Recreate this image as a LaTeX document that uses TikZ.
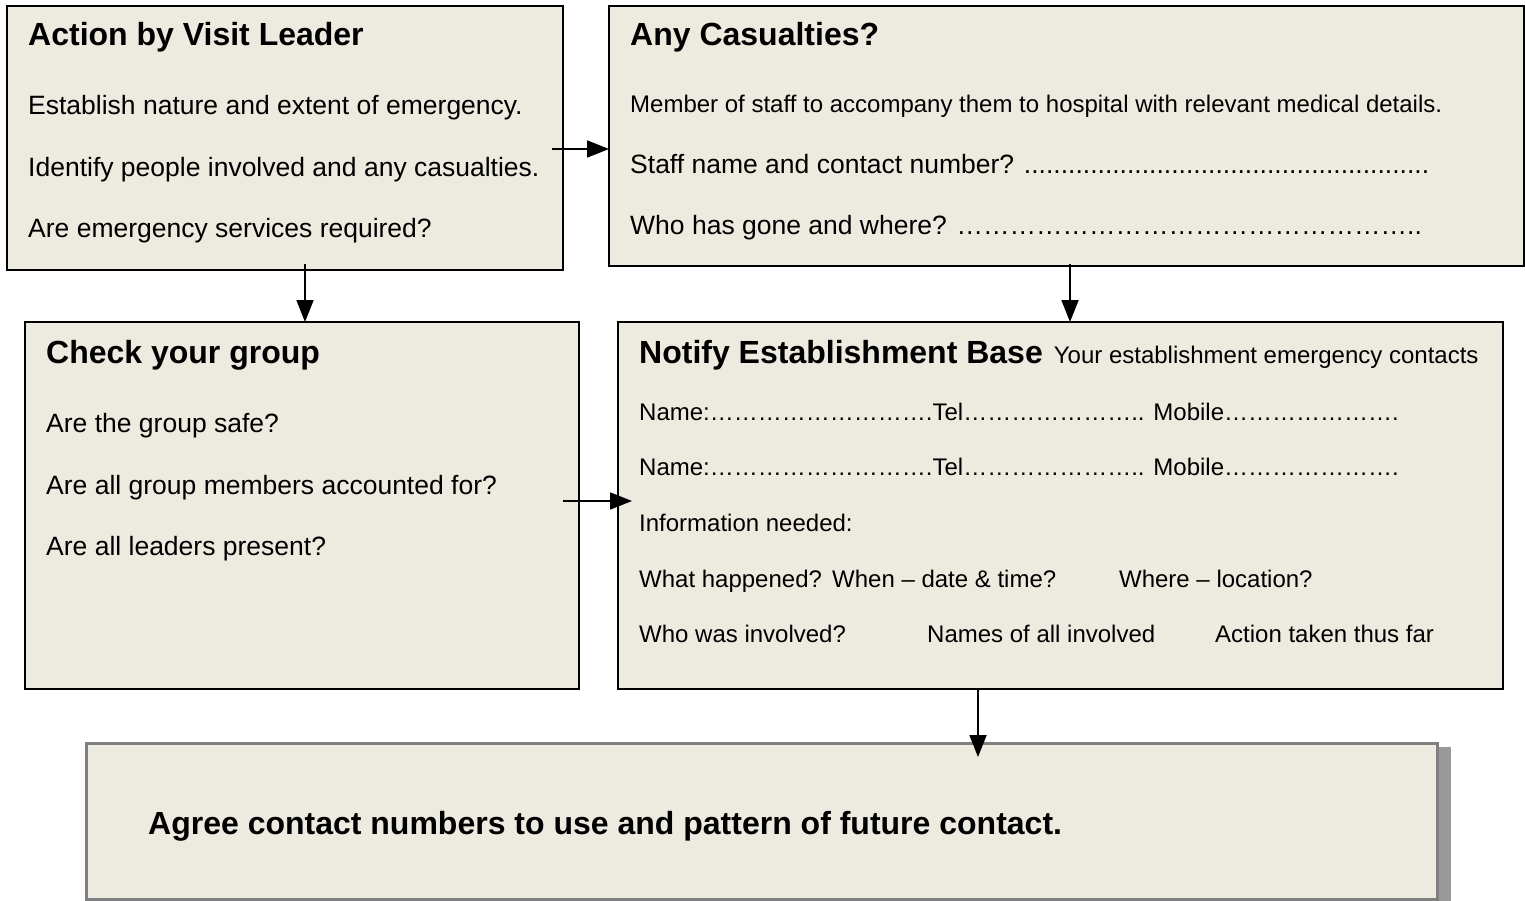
\documentclass[tikz,border=0pt]{standalone}
\usepackage{fontspec}
\setmainfont{Liberation Sans}
\usetikzlibrary{arrows.meta,calc}
\definecolor{boxfill}{HTML}{EDEAE0}
\definecolor{shadowgray}{HTML}{999999}
\definecolor{framegray}{HTML}{808080}
\begin{document}
\begin{tikzpicture}[x=1pt,y=-1pt,
  box/.style={draw=black, line width=1.5pt, fill=boxfill, inner sep=0pt, outer sep=0pt, anchor=north west},
  txt/.style={anchor=base west, inner sep=0pt, font=\fontsize{26.5}{30}\selectfont},
  smtxt/.style={anchor=base west, inner sep=0pt, font=\fontsize{24}{28}\selectfont},
  ttl/.style={anchor=base west, inner sep=0pt, font=\fontsize{32}{36}\selectfont\bfseries},
  arr/.style={-{Triangle[length=22pt,width=17pt]}, line width=1.8pt}]
\useasboundingbox (0,0) rectangle (1525,901);
% boxes
\node[box, minimum width=556pt, minimum height=264pt] (b1) at (7,6) {};
\node[box, minimum width=915pt, minimum height=260pt] (b2) at (609,6) {};
\node[box, minimum width=554pt, minimum height=367pt] (b3) at (25,322) {};
\node[box, minimum width=885pt, minimum height=367pt] (b4) at (618,322) {};
\node[anchor=north west, fill=shadowgray, inner sep=0pt, minimum width=1351pt, minimum height=156pt] (sh) at (100,747) {};
\node[box, draw=framegray, line width=3pt, minimum width=1351pt, minimum height=156pt] (b5) at (86,743) {};
% box 1 text
\node[ttl] (t1) at (28,46) {Action by Visit Leader};
\node[txt] (t1a) at (28,115) {Establish nature and extent of emergency.};
\node[txt] (t1b) at (28,177) {Identify people involved and any casualties.};
\node[txt] (t1c) at (28,238) {Are emergency services required?};
% box 2 text
\node[ttl] (t2) at (630,46) {Any Casualties?};
\node[smtxt] (t2a) at (630,113) {Member of staff to accompany them to hospital with relevant medical details.};
\node[txt] (t2b) at (630,174) {Staff name and contact number? .......................................................};
\node[txt] (t2c) at (630,235) {Who has gone and where? ……………………………………………..};
% box 3 text
\node[ttl] (t3) at (46,363) {Check your group};
\node[txt] (t3a) at (46,432) {Are the group safe?};
\node[txt] (t3b) at (46,494) {Are all group members accounted for?};
\node[txt] (t3c) at (46,555) {Are all leaders present?};
% box 4 text
\node[anchor=base west, inner sep=0pt] (t4) at (639,363) {{\fontsize{32}{36}\selectfont\bfseries Notify Establishment Base}\hspace{11pt}{\fontsize{24}{28}\selectfont Your establishment emergency contacts}};
\node[smtxt] (t4a) at (639,420) {Name:……………………….Tel………………….. Mobile………………….};
\node[smtxt] (t4b) at (639,475) {Name:……………………….Tel………………….. Mobile………………….};
\node[smtxt] (t4c) at (639,531) {Information needed:};
\node[smtxt] (t4d) at (639,587) {\makebox[193pt][l]{What happened?}\makebox[287pt][l]{When – date \& time?}Where – location?};
\node[smtxt] (t4e) at (639,642) {\makebox[288pt][l]{Who was involved?}\makebox[288pt][l]{Names of all involved}Action taken thus far};
% box 5 text
\node[ttl] (t5) at (148,834) {Agree contact numbers to use and pattern of future contact.};
% arrows
\draw[arr] ($(b1.east)+(-11,11)$) -- ($(b2.west)+(0,13)$);
\draw[arr] ($(b1.south)+(20,-6)$) -- ($(b3.north)+(3,0)$);
\draw[arr] ($(b2.south)+(3.5,-2)$) -- ($(b4.north)+(9.5,0)$);
\draw[arr] ($(b3.east)+(-16,-4.5)$) -- ($(b4.west)+(14,-4.5)$);
\draw[arr] ($(b4.south)+(-82.5,0)$) -- ($(b5.north)+(216.5,14)$);
\end{tikzpicture}
\end{document}
